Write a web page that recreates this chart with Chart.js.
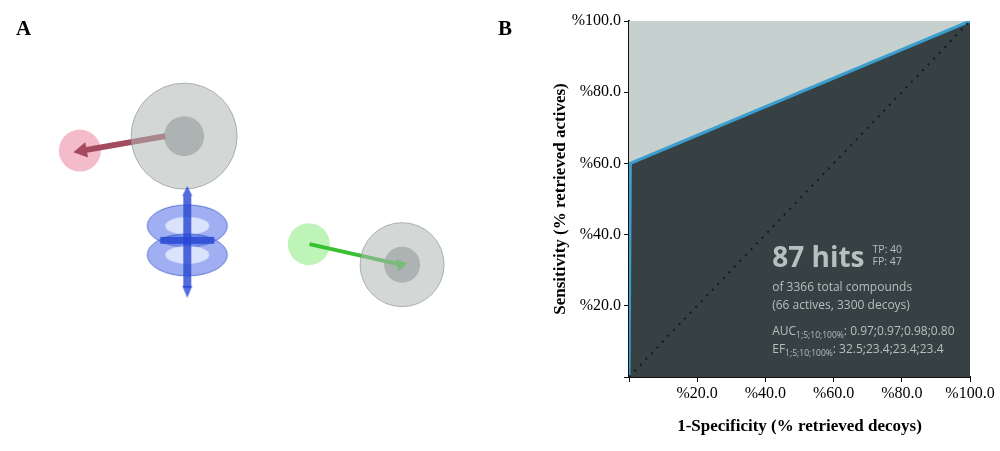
<!DOCTYPE html>
<html>
<head>
<meta charset="utf-8">
<script src="https://cdn.jsdelivr.net/npm/chart.js@4.4.0/dist/chart.umd.min.js"></script>
<style>
  body { margin: 0; background: #fff; width: 1000px; height: 451px; overflow: hidden; position: relative; }
  #wa { position: absolute; left: 0; top: 0; width: 500px; height: 451px; }
  #wb { position: absolute; left: 500px; top: 0; width: 500px; height: 451px; }
  .lbl { position: absolute; top: 16px; font: bold 21px "Liberation Serif", serif; }
</style>
</head>
<body>
<div id="wa"><canvas id="chartA"></canvas></div>
<div id="wb"><canvas id="chartB"></canvas></div>
<div class="lbl" style="left:16px">A</div>
<div class="lbl" style="left:498px">B</div>
<script>
// ROC curve (panel B)
var rocX = [0, 0.4, 100];
var rocY = [0, 60, 100];
var diagX = [0, 100];
var diagY = [0, 100];
var tickVals = [20, 40, 60, 80, 100];

// pharmacophore features (panel A), in panel pixel units
var shellX = [166, 444], shellY = [108, 277], shellR = [53, 42];
var coreX = [166, 444], coreY = [108, 277], coreR = [20, 18];
var donorX = [33], donorY = [127], donorR = [21];
var acceptX = [325], acceptY = [250], acceptR = [21];
var arrowRed = [[142, 108], [36, 127]];
var arrowGreen = [[326, 250], [442, 277]];
var ringX = [170], ringY = [247];

function pts(xs, ys) { return xs.map(function (v, i) { return {x: v, y: ys[i]}; }); }
function bub(xs, ys, rs) { return xs.map(function (v, i) { return {x: v, y: ys[i], r: rs[i]}; }); }

// torus-like aromatic ring drawn as an image point style
function ringImage() {
  var c = document.createElement('canvas');
  c.width = 90; c.height = 120;
  var g = c.getContext('2d');
  g.strokeStyle = 'rgba(50,80,200,0.7)';
  [[45, 44], [45, 73]].forEach(function (p) {
    g.fillStyle = 'rgba(80,110,230,0.55)';
    g.beginPath(); g.ellipse(p[0], p[1], 40, 21, 0, 0, Math.PI * 2); g.fill(); g.stroke();
    g.beginPath(); g.fillStyle = 'rgba(235,240,255,0.8)';
    g.ellipse(p[0], p[1], 22, 9, 0, 0, Math.PI * 2); g.fill();
  });
  g.fillStyle = 'rgba(40,70,210,0.8)';
  g.fillRect(41, 14, 8, 92);
  g.fillRect(18, 55, 54, 7);
  g.beginPath(); g.moveTo(40, 14); g.lineTo(45, 4); g.lineTo(50, 14); g.fill();
  g.beginPath(); g.moveTo(40, 104); g.lineTo(45, 116); g.lineTo(50, 104); g.fill();
  return c;
}

var hidden = { display: false };
new Chart(document.getElementById('chartA'), {
  type: 'bubble',
  data: {
    datasets: [
      { type: 'line', data: arrowRed.map(function (p) { return {x: p[0], y: p[1]}; }), borderColor: '#a34a5c', borderWidth: 6, pointRadius: [0, 9], pointStyle: 'triangle', rotation: -100, pointBackgroundColor: '#a34a5c', pointBorderWidth: 0, order: 2 },
      { type: 'line', data: arrowGreen.map(function (p) { return {x: p[0], y: p[1]}; }), borderColor: '#38c030', borderWidth: 4, pointRadius: [0, 7], pointStyle: 'triangle', rotation: 77, pointBackgroundColor: '#38c030', pointBorderWidth: 0, order: 2 },
      { data: bub(coreX, coreY, coreR), backgroundColor: 'rgba(140,150,148,0.75)', borderWidth: 0, order: 3 },
      { data: bub(shellX, shellY, shellR), backgroundColor: 'rgba(175,183,181,0.55)', borderColor: 'rgba(130,140,138,0.6)', borderWidth: 1, order: 1 },
      { data: bub(donorX, donorY, donorR), backgroundColor: 'rgba(240,160,180,0.7)', borderWidth: 0, order: 4 },
      { data: bub(acceptX, acceptY, acceptR), backgroundColor: 'rgba(170,240,160,0.75)', borderWidth: 0, order: 4 },
      { type: 'scatter', data: pts(ringX, ringY), pointStyle: ringImage(), pointRadius: 40 }
    ]
  },
  options: {
    responsive: true, maintainAspectRatio: false, animation: false,
    layout: { padding: 0 },
    plugins: { legend: hidden, tooltip: { enabled: false } },
    scales: {
      x: { type: 'linear', min: 0, max: 500, display: false },
      y: { type: 'linear', min: 0, max: 451, reverse: true, display: false }
    }
  }
});

var tickCb = function (v) { return v === 0 ? '' : '%' + v.toFixed(1); };
var serif = '"Liberation Serif", "DejaVu Serif", serif';

var bgPlugin = {
  id: 'bg',
  beforeDatasetsDraw: function (chart) {
    var a = chart.chartArea, ctx = chart.ctx;
    ctx.save(); ctx.fillStyle = '#c6d0cf';
    ctx.fillRect(a.left, a.top, a.right - a.left, a.bottom - a.top);
    ctx.restore();
  },
  afterDatasetsDraw: function (chart) {
    var a = chart.chartArea, ctx = chart.ctx;
    var x0 = a.left + (a.right - a.left) * 0.42, y0 = a.top + (a.bottom - a.top) * 0.69;
    ctx.save();
    ctx.fillStyle = '#b7bfbf';
    ctx.textBaseline = 'alphabetic';
    ctx.font = 'bold 28px "Open Sans", sans-serif';
    ctx.fillText('87 hits', x0, y0);
    var w = ctx.measureText('87 hits').width;
    ctx.font = '10.5px "Open Sans", sans-serif';
    ctx.fillText('TP: 40', x0 + w + 8, y0 - 14);
    ctx.fillText('FP: 47', x0 + w + 8, y0 - 2);
    ctx.font = '12px "Open Sans", sans-serif';
    ctx.fillText('of 3366 total compounds', x0, y0 + 24);
    ctx.fillText('(66 actives, 3300 decoys)', x0, y0 + 42);
    function sub(main, s, rest, y) {
      ctx.font = '12px "Open Sans", sans-serif';
      ctx.fillText(main, x0, y);
      var w1 = ctx.measureText(main).width;
      ctx.font = '8.5px "Open Sans", sans-serif';
      ctx.fillText(s, x0 + w1, y + 3);
      var w2 = ctx.measureText(s).width;
      ctx.font = '12px "Open Sans", sans-serif';
      ctx.fillText(rest, x0 + w1 + w2, y);
    }
    sub('AUC', '1;5;10;100%', ': 0.97;0.97;0.98;0.80', y0 + 68);
    sub('EF', '1;5;10;100%', ': 32.5;23.4;23.4;23.4', y0 + 86);
    ctx.restore();
  }
};

new Chart(document.getElementById('chartB'), {
  type: 'line',
  data: {
    datasets: [
      { data: pts(rocX, rocY), borderColor: '#3a9fd0', borderWidth: 3, backgroundColor: '#374042', fill: 'origin', pointRadius: 0, tension: 0, order: 2 },
      { data: pts(diagX, diagY), borderColor: '#151a1b', borderWidth: 2, borderDash: [2, 6], pointRadius: 0, fill: false, order: 1 }
    ]
  },
  plugins: [bgPlugin],
  options: {
    responsive: true, maintainAspectRatio: false, animation: false,
    layout: { padding: { top: 21, right: 30, left: 0, bottom: 0 } },
    plugins: { legend: hidden, tooltip: { enabled: false } },
    scales: {
      x: {
        type: 'linear', min: 0, max: 100,
        afterBuildTicks: function (s) { s.ticks = [0].concat(tickVals).map(function (v) { return {value: v}; }); },
        afterFit: function (s) { s.height = 74; },
        ticks: { callback: tickCb, color: '#000', font: { family: serif, size: 16 }, padding: 2, maxRotation: 0 },
        grid: { drawOnChartArea: false, color: '#111', tickLength: 5 },
        border: { color: '#111', width: 2 },
        title: { display: true, text: '1-Specificity (% retrieved decoys)', color: '#000', font: { family: serif, size: 17, weight: 'bold' }, padding: { top: 0, bottom: 14 } }
      },
      y: {
        type: 'linear', min: 0, max: 100,
        afterBuildTicks: function (s) { s.ticks = [0].concat(tickVals).map(function (v) { return {value: v}; }); },
        afterFit: function (s) { s.width = 129; },
        ticks: { callback: tickCb, color: '#000', font: { family: serif, size: 16 }, padding: 3 },
        grid: { drawOnChartArea: false, color: '#111', tickLength: 5 },
        border: { color: '#111', width: 2 },
        title: { display: true, text: 'Sensitivity (% retrieved actives)', color: '#000', font: { family: serif, size: 17, weight: 'bold' }, padding: { top: 50, bottom: 0 } }
      }
    }
  }
});
</script>
</body>
</html>
